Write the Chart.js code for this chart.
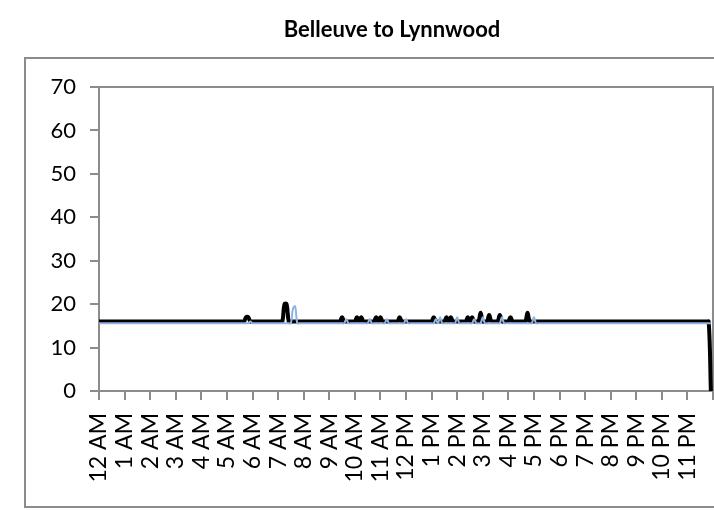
<!DOCTYPE html>
<html>
<head>
<meta charset="utf-8">
<script src="https://cdn.jsdelivr.net/npm/chart.js@4"></script>
<style>
  html, body { margin: 0; padding: 0; background: #fff; }
  #wrap { width: 714px; height: 510px; }
</style>
</head>
<body>
<div id="wrap"><canvas id="chart" width="714" height="510"></canvas></div>
<script>
const TITLE = "Belleuve to Lynnwood";

// one label per hour, 12 five-minute samples per hour
const HOURS = ["12 AM", "1 AM", "2 AM", "3 AM", "4 AM", "5 AM", "6 AM", "7 AM", "8 AM", "9 AM", "10 AM", "11 AM",
  "12 PM", "1 PM", "2 PM", "3 PM", "4 PM", "5 PM", "6 PM", "7 PM", "8 PM", "9 PM", "10 PM", "11 PM"];

// travel time, minutes (bold series)
const CURRENT = [
  16, 16, 16, 16, 16, 16, 16, 16, 16, 16, 16, 16,
  16, 16, 16, 16, 16, 16, 16, 16, 16, 16, 16, 16,
  16, 16, 16, 16, 16, 16, 16, 16, 16, 16, 16, 16,
  16, 16, 16, 16, 16, 16, 16, 16, 16, 16, 16, 16,
  16, 16, 16, 16, 16, 16, 16, 16, 16, 16, 16, 16,
  16, 16, 16, 16, 16, 16, 16, 16, 16, 17, 17, 16,
  16, 16, 16, 16, 16, 16, 16, 16, 16, 16, 16, 16,
  16, 16, 16, 20, 20, 16, 16, 16, 16, 16, 16, 16,
  16, 16, 16, 16, 16, 16, 16, 16, 16, 16, 16, 16,
  16, 16, 16, 16, 16, 16, 17, 16, 16, 16, 16, 16,
  16, 17, 16, 17, 16, 16, 16, 16, 16, 16, 17, 16,
  17, 16, 16, 16, 16, 16, 16, 16, 16, 17, 16, 16,
  16, 16, 16, 16, 16, 16, 16, 16, 16, 16, 16, 16,
  16, 17, 16, 16, 16, 16, 16, 17, 16, 17, 16, 16,
  16, 16, 16, 16, 16, 17, 16, 17, 16, 16, 16, 18,
  16, 16, 16, 17.5, 16, 16, 16, 16, 17.5, 16, 16, 16,
  16, 17, 16, 16, 16, 16, 16, 16, 16, 18, 16, 16,
  16, 16, 16, 16, 16, 16, 16, 16, 16, 16, 16, 16,
  16, 16, 16, 16, 16, 16, 16, 16, 16, 16, 16, 16,
  16, 16, 16, 16, 16, 16, 16, 16, 16, 16, 16, 16,
  16, 16, 16, 16, 16, 16, 16, 16, 16, 16, 16, 16,
  16, 16, 16, 16, 16, 16, 16, 16, 16, 16, 16, 16,
  16, 16, 16, 16, 16, 16, 16, 16, 16, 16, 16, 16,
  16, 16, 16, 16, 16, 16, 16, 16, 16, 16, 16, 0
];

// typical travel time, minutes (light series)
const TYPICAL = [
  15.6, 15.6, 15.6, 15.6, 15.6, 15.6, 15.6, 15.6, 15.6, 15.6, 15.6, 15.6,
  15.6, 15.6, 15.6, 15.6, 15.6, 15.6, 15.6, 15.6, 15.6, 15.6, 15.6, 15.6,
  15.6, 15.6, 15.6, 15.6, 15.6, 15.6, 15.6, 15.6, 15.6, 15.6, 15.6, 15.6,
  15.6, 15.6, 15.6, 15.6, 15.6, 15.6, 15.6, 15.6, 15.6, 15.6, 15.6, 15.6,
  15.6, 15.6, 15.6, 15.6, 15.6, 15.6, 15.6, 15.6, 15.6, 15.6, 15.6, 15.6,
  15.6, 15.6, 15.6, 15.6, 15.6, 15.6, 15.6, 15.6, 15.6, 15.6, 15.6, 16,
  15.6, 15.6, 15.6, 15.6, 15.6, 15.6, 15.6, 15.6, 15.6, 15.6, 15.6, 15.6,
  15.6, 15.6, 15.6, 15.6, 15.6, 15.6, 15.6, 19, 19.5, 15.6, 15.6, 15.6,
  15.6, 15.6, 15.6, 15.6, 15.6, 15.6, 15.6, 15.6, 15.6, 15.6, 15.6, 15.6,
  15.6, 15.6, 15.6, 15.6, 15.6, 15.6, 15.6, 15.6, 16.5, 15.6, 15.6, 15.6,
  15.6, 15.6, 15.6, 15.6, 15.6, 15.6, 15.6, 16.5, 15.6, 15.6, 15.6, 15.6,
  15.6, 15.6, 15.6, 16.5, 15.6, 15.6, 15.6, 15.6, 15.6, 15.6, 15.6, 15.6,
  16.5, 15.6, 15.6, 15.6, 15.6, 15.6, 15.6, 15.6, 15.6, 15.6, 15.6, 15.6,
  15.6, 15.6, 16.5, 15.6, 17, 15.6, 15.6, 15.6, 15.6, 15.6, 15.6, 15.6,
  17, 15.6, 15.6, 15.6, 15.6, 15.6, 15.6, 15.6, 16.5, 15.6, 15.6, 15.6,
  17, 15.6, 15.6, 15.6, 15.6, 15.6, 15.6, 15.6, 15.6, 17, 15.6, 15.6,
  15.6, 15.6, 15.6, 15.6, 15.6, 15.6, 15.6, 15.6, 15.6, 15.6, 15.6, 15.6,
  17, 15.6, 15.6, 15.6, 15.6, 15.6, 15.6, 15.6, 15.6, 15.6, 15.6, 15.6,
  15.6, 15.6, 15.6, 15.6, 15.6, 15.6, 15.6, 15.6, 15.6, 15.6, 15.6, 15.6,
  15.6, 15.6, 15.6, 15.6, 15.6, 15.6, 15.6, 15.6, 15.6, 15.6, 15.6, 15.6,
  15.6, 15.6, 15.6, 15.6, 15.6, 15.6, 15.6, 15.6, 15.6, 15.6, 15.6, 15.6,
  15.6, 15.6, 15.6, 15.6, 15.6, 15.6, 15.6, 15.6, 15.6, 15.6, 15.6, 15.6,
  15.6, 15.6, 15.6, 15.6, 15.6, 15.6, 15.6, 15.6, 15.6, 15.6, 15.6, 15.6,
  15.6, 15.6, 15.6, 15.6, 15.6, 15.6, 15.6, 15.6, 15.6, 15.6, 15.6, 15.6
];

const Y_TICKS = { min: 0, max: 70, step: 10 };
const SAMPLES_PER_HOUR = 12;

const AXIS_GREY = "#8c8c8c";
const FONT = "Lato, 'Open Sans', sans-serif";

// title, outer chart border and plot frame
const framePlugin = {
  id: "frame",
  beforeDraw(chart) {
    const { ctx } = chart;
    ctx.save();
    ctx.strokeStyle = AXIS_GREY;
    ctx.lineWidth = 2;
    ctx.strokeRect(25, 58, 720, 449);
    ctx.fillStyle = "#000";
    ctx.font = `bold 22px ${FONT}`;
    ctx.textAlign = "center";
    ctx.textBaseline = "middle";
    ctx.fillText(TITLE, 392, 30);
    ctx.restore();
  },
  beforeDatasetsDraw(chart) {
    const { ctx, chartArea: a } = chart;
    ctx.save();
    ctx.strokeStyle = AXIS_GREY;
    ctx.lineWidth = 2;
    ctx.strokeRect(a.left, a.top, a.right - a.left, a.bottom - a.top);
    ctx.restore();
  },
};

const toPoints = (arr) => arr.map((v, i) => ({ x: i, y: v }));

// keep the plot edge-to-edge: no room reserved for rotated end labels
const fitX = (s) => {
  s.height = 119;
  s.paddingLeft = 0;
  s.paddingRight = 0;
};

new Chart(document.getElementById("chart"), {
  type: "line",
  data: {
    datasets: [
      {
        label: "Typical",
        data: toPoints(TYPICAL),
        borderColor: "#8eb4e3",
        borderWidth: 2,
        pointRadius: 0,
        tension: 0.4,
      },
      {
        label: "Current",
        data: toPoints(CURRENT),
        borderColor: "#000000",
        borderWidth: 4,
        pointRadius: 0,
        tension: 0.4,
      },
    ],
  },
  options: {
    responsive: false,
    animation: false,
    layout: { autoPadding: false, padding: { left: 0, right: 1, top: 87, bottom: 0 } },
    plugins: {
      legend: { display: false },
      tooltip: { enabled: false },
      title: { display: false },
    },
    scales: {
      x: {
        type: "linear",
        min: 0,
        max: HOURS.length * SAMPLES_PER_HOUR,
        afterFit: fitX,
        ticks: {
          stepSize: SAMPLES_PER_HOUR,
          autoSkip: false,
          maxRotation: 90,
          minRotation: 90,
          padding: 13,
          color: "#000",
          font: { family: FONT, size: 23 },
          callback: (v) => HOURS[v / SAMPLES_PER_HOUR] ?? "",
        },
        grid: { drawOnChartArea: false, color: AXIS_GREY, tickLength: 9, lineWidth: 2 },
        border: { color: AXIS_GREY, width: 2 },
      },
      y: {
        min: Y_TICKS.min,
        max: Y_TICKS.max,
        afterFit: (s) => { s.width = 99; },
        ticks: {
          stepSize: Y_TICKS.step,
          padding: 14,
          color: "#000",
          font: { family: FONT, size: 22 },
        },
        grid: { drawOnChartArea: false, color: AXIS_GREY, tickLength: 9, lineWidth: 2 },
        border: { color: AXIS_GREY, width: 2 },
      },
    },
  },
  plugins: [framePlugin],
});
</script>
</body>
</html>
